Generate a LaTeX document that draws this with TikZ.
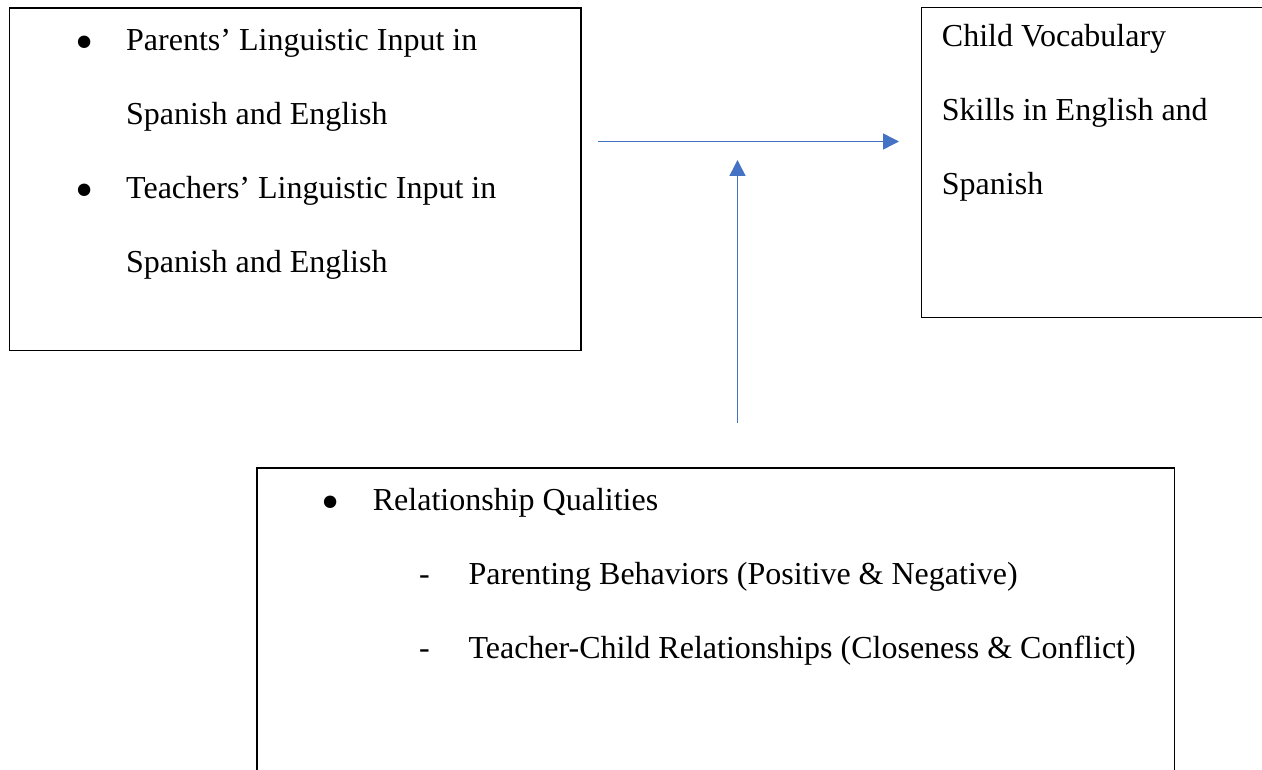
\documentclass[tikz,border=0pt]{standalone}
\usepackage{fontspec}
\setmainfont{Liberation Serif}
\usetikzlibrary{arrows.meta}
\definecolor{arrowblue}{HTML}{4472C4}
\begin{document}
\begin{tikzpicture}[x=1pt,y=-1pt,
  box/.style={draw=black, line width=1.4pt, inner sep=0pt, anchor=north west},
  txt/.style={anchor=base west, inner sep=0pt, font=\fontsize{32}{38}\selectfont},
  bulletmark/.style={anchor=base, inner sep=0pt, font=\fontsize{52}{60}\selectfont},
  dashmark/.style={anchor=base, inner sep=0pt, font=\fontsize{32}{38}\selectfont},
  link/.style={draw=arrowblue, line width=1.5pt, -{Triangle[length=16pt,width=16pt]}}]
\useasboundingbox (0,0) rectangle (1262,770);
\clip (0,0) rectangle (1262,770);
% boxes
\node[box, minimum width=571.8pt, minimum height=342.5pt] (inputs) at (8.5,7.5) {};
\node[box, minimum width=360pt, minimum height=309.7pt] (outcome) at (920.7,7) {};
\node[box, minimum width=917.7pt, minimum height=330pt] (moderator) at (256.3,467.3) {};
% left box text
\node[bulletmark] (b1) at (85,59.7) {•};
\node[txt] (t1) at (126,51) {Parents’ Linguistic Input in};
\node[txt] (t2) at (126,125) {Spanish and English};
\node[bulletmark] (b2) at (85,207.7) {•};
\node[txt] (t3) at (126,199) {Teachers’ Linguistic Input in};
\node[txt] (t4) at (126,273) {Spanish and English};
% right box text
\node[txt] (r1) at (941.7,47) {Child Vocabulary};
\node[txt] (r2) at (941.7,121) {Skills in English and};
\node[txt] (r3) at (941.7,195) {Spanish};
% bottom box text
\node[bulletmark] (b3) at (330.7,519.4) {•};
\node[txt] (m1) at (372.7,510) {Relationship Qualities};
\node[dashmark] (d1) at (424.5,584) {-};
\node[txt] (m2) at (468.3,584) {Parenting Behaviors (Positive \& Negative)};
\node[dashmark] (d2) at (424.5,658) {-};
\node[txt] (m3) at (468.3,658) {Teacher-Child Relationships (Closeness \& Conflict)};
% arrows
\coordinate (hstart) at (598,141.5);
\coordinate (hend) at (899,141.5);
\coordinate (vstart) at (737.5,423);
\coordinate (vend) at (737.5,160);
\draw[link] (hstart) -- (hend);
\draw[link] (vstart) -- (vend);
\end{tikzpicture}
\end{document}
